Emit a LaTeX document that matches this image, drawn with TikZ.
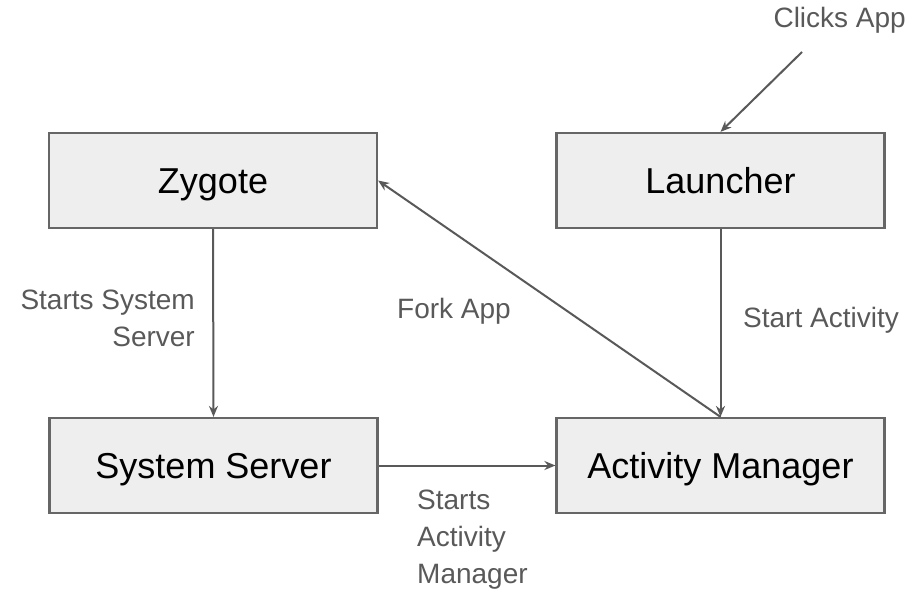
\documentclass[tikz,border=0pt]{standalone}
\usepackage{fontspec}
\setmainfont{Liberation Sans}
\usetikzlibrary{arrows.meta}
\definecolor{boxfill}{HTML}{EEEEEE}
\definecolor{boxline}{HTML}{666666}
\definecolor{arrowc}{HTML}{595959}
\definecolor{labelc}{HTML}{595959}
\begin{document}
\begin{tikzpicture}[x=1pt,y=-1pt,
  procbox/.style={draw=boxline, fill=boxfill, line width=2.2pt, minimum width=328pt, minimum height=95pt, inner sep=0pt, text height=26pt, text depth=0pt, font=\fontsize{36}{40}\selectfont, text=black},
  conn/.style={draw=arrowc, line width=2pt, -{Stealth[length=11pt,width=9pt]}},
  lbl/.style={text=labelc, font=\fontsize{28}{37}\selectfont, inner sep=0pt}]
\useasboundingbox (0,0) rectangle (910,591);
\node[procbox] (zyg) at (213,180.5) {Zygote};
\node[procbox] (lau) at (720.5,180.5) {Launcher};
\node[procbox] (sys) at (213.5,465.5) {System Server};
\node[procbox] (act) at (720.5,465.5) {Activity Manager};
\coordinate (click) at (802,52);
\draw[conn] (click) -- (lau.north);
\draw[conn] (zyg.south) -- (sys.north);
\draw[conn] (lau.south) -- (act.north);
\draw[conn] (act.north) -- (zyg.east);
\draw[conn] (sys.east) -- (act.west);
\node[lbl, anchor=east] (lclick) at (906,20) {Clicks App};
\node[lbl, anchor=east, align=right] (lsys) at (195,318.5) {Starts System\\Server};
\node[lbl] (lfork) at (454,311) {Fork App};
\node[lbl] (lstart) at (821,320) {Start Activity};
\node[lbl, anchor=west, align=left] (lact) at (417,540) {Starts\\Activity\\Manager};
\end{tikzpicture}
\end{document}
